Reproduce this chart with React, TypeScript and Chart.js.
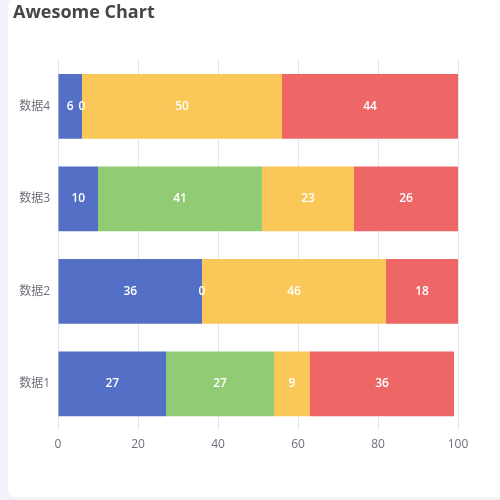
import React, { useEffect, useRef } from "react";
import { Chart, registerables } from "chart.js";

Chart.register(...registerables);

const categories = ["数据1", "数据2", "数据3", "数据4"];
const seriesNames = ["系列1", "系列2", "系列3", "系列4"];
const blueValues = [27, 36, 10, 6];
const greenValues = [27, 0, 41, 0];
const yellowValues = [9, 46, 23, 50];
const redValues = [36, 18, 26, 44];
const xTicks = [0, 20, 40, 60, 80, 100];
const colors = ["#5470c6", "#91cc75", "#fac858", "#ee6666"];

const FONT = '"Open Sans", "Noto Sans CJK SC", "Noto Sans", sans-serif';

const labelPlugin = {
  id: "barValueLabels",
  afterDatasetsDraw(chart: any) {
    const ctx = chart.ctx;
    ctx.save();
    ctx.fillStyle = "#ffffff";
    ctx.font = `600 12px ${FONT}`;
    ctx.textAlign = "center";
    ctx.textBaseline = "middle";
    chart.data.datasets.forEach((ds: any, di: number) => {
      const meta = chart.getDatasetMeta(di);
      meta.data.forEach((bar: any, i: number) => {
        const v = ds.data[i];
        const { x, y, base } = bar.getProps(["x", "y", "base"], true);
        ctx.fillText(String(v), (x + base) / 2, y);
      });
    });
    ctx.restore();
  },
};

export default function App() {
  const ref = useRef<HTMLCanvasElement | null>(null);
  useEffect(() => {
    if (!ref.current) return;
    const all = [blueValues, greenValues, yellowValues, redValues];
    const chart = new Chart(ref.current, {
      type: "bar",
      data: {
        labels: categories,
        datasets: all.map((d, i) => ({
          label: seriesNames[i],
          data: d,
          backgroundColor: colors[i],
          borderWidth: 0,
          barPercentage: 0.7,
          categoryPercentage: 1,
        })),
      },
      options: {
        indexAxis: "y",
        animation: false,
        responsive: false,
        maintainAspectRatio: false,
        devicePixelRatio: 1,
        layout: { padding: { left: 13, right: 42, top: 0, bottom: 48 } },
        plugins: {
          legend: { display: false },
          tooltip: { enabled: false },
          title: {
            display: true,
            text: "Awesome Chart",
            align: "start",
            color: "#464646",
            font: { family: FONT, size: 18, weight: "bold", lineHeight: 1.2 },
            padding: { top: 2, bottom: 36.4 },
          },
        },
        scales: {
          x: {
            stacked: true,
            min: 0,
            max: 100,
            afterBuildTicks: (scale: any) => {
              scale.ticks = xTicks.map((v) => ({ value: v }));
            },
            afterFit: (scale: any) => {
              scale.height = 22;
            },
            grid: { color: "#e0e6f1", drawTicks: false },
            border: { display: false },
            ticks: { color: "#6e7079", font: { family: FONT, size: 12 }, padding: 7 },
          },
          y: {
            stacked: true,
            reverse: true,
            afterFit: (scale: any) => {
              scale.width = 45;
            },
            grid: { display: false, drawTicks: false },
            border: { display: false },
            ticks: { color: "#6e7079", font: { family: FONT, size: 12 }, padding: 8 },
          },
        },
      },
      plugins: [labelPlugin],
    } as any);
    return () => chart.destroy();
  }, []);

  return (
    <div style={{ position: "fixed", left: 0, top: 0, width: 500, height: 500, background: "#f2f3f8", overflow: "hidden" }}>
      <div style={{ position: "absolute", left: 8, top: 0, width: 520, height: 497, background: "#ffffff", borderRadius: 6 }} />
      <canvas ref={ref} width={500} height={500} style={{ position: "absolute", left: 0, top: 0, width: 500, height: 500 }} />
    </div>
  );
}
